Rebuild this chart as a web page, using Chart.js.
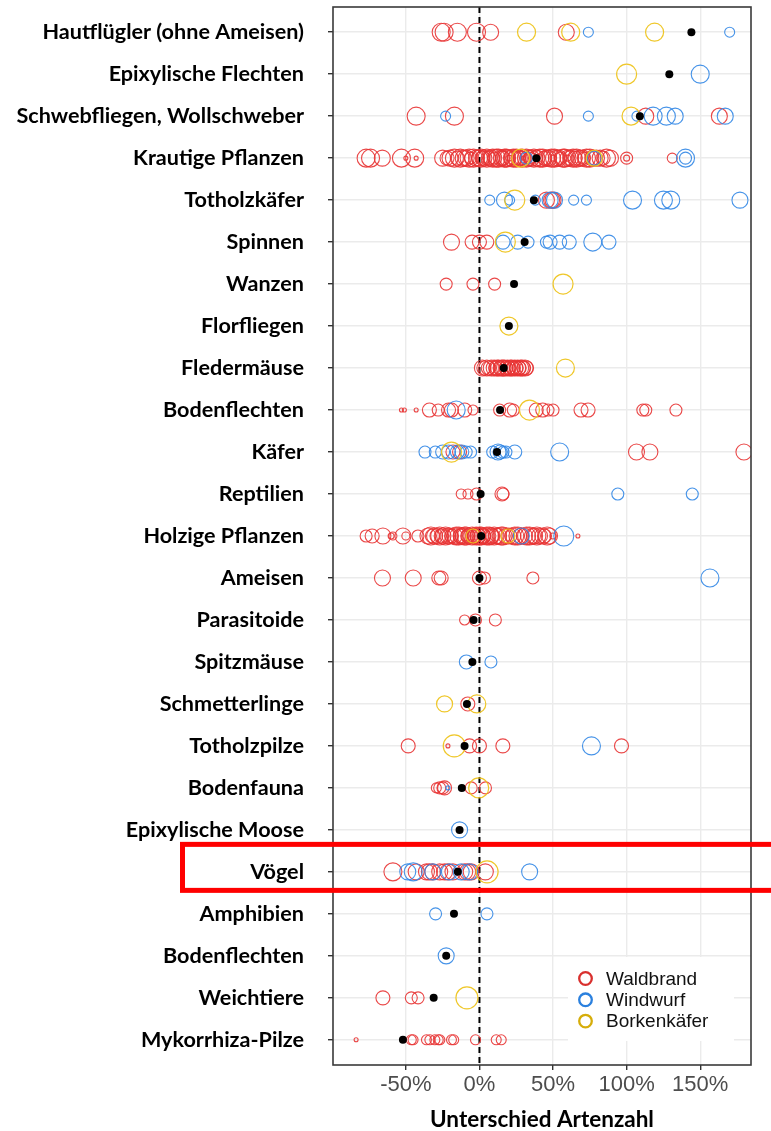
<!DOCTYPE html>
<html>
<head>
<meta charset="utf-8">
<script src="https://cdn.jsdelivr.net/npm/chart.js@4"></script>
<style>
  html, body { margin: 0; padding: 0; background: #fff; }
  #c { display: block; }
</style>
</head>
<body>
<canvas id="c" width="771" height="1131"></canvas>
<script>
// ---------- DATA ----------
const categories = [
  'Hautflügler (ohne Ameisen)', 'Epixylische Flechten', 'Schwebfliegen, Wollschweber',
  'Krautige Pflanzen', 'Totholzkäfer', 'Spinnen', 'Wanzen', 'Florfliegen', 'Fledermäuse',
  'Bodenflechten', 'Käfer', 'Reptilien', 'Holzige Pflanzen', 'Ameisen', 'Parasitoide',
  'Spitzmäuse', 'Schmetterlinge', 'Totholzpilze', 'Bodenfauna', 'Epixylische Moose',
  'Vögel', 'Amphibien', 'Bodenflechten', 'Weichtiere', 'Mykorrhiza-Pilze'
];
const xTickValues = [-50, 0, 50, 100, 150];
const seriesNames = ['Waldbrand', 'Windwurf', 'Borkenkäfer'];
const axisTitle = 'Unterschied Artenzahl';

// [row, Unterschied %, Gewicht]
const waldbrand = [
  [0,-26,9],[0,-24,9],[0,-15,9],[0,-2,9],[0,7.6,8],[0,59,8],
  [2,-43,9],[2,-17,9],[2,51,8],[2,113,8],[2,163,8],
  [3,-77,9],[3,-74,9],[3,-66,8],[3,-53,9],[3,-50,2],[3,-44,9],[3,-43,2],[3,-20,8],[3,-13,9],[3,-9,8],
  [3,-4,9],[3,0,8],[3,2,7],[3,5,9],[3,8,8],[3,11.5,9],[3,14.9,8],[3,18.3,9],[3,20,3],[3,21.7,8],[3,25,9],
  [3,28.5,7],[3,30,2],[3,31.9,9],[3,35.3,8],[3,40,4],[3,41,9],[3,45.5,8],[3,48.9,9],[3,50,3],[3,52.3,8],
  [3,56.8,9],[3,60,3],[3,60.2,8],[3,63.6,9],[3,68.2,8],[3,72.7,9],[3,79.5,8],[3,86.3,9],[3,100,6],[3,100,3],[3,131,5],
  [3,-25,8],[3,-22,7],[3,-17,9],[3,-15,7],[3,-11,8],[3,-7,9],[3,-6,6],[3,-2,8],[3,1,9],[3,3,8],[3,6,7],
  [3,9,9],[3,10,6],[3,13,9],[3,16,7],[3,17,9],[3,19,8],[3,23,9],[3,24,7],[3,27,8],[3,29,9],[3,33,8],
  [3,34,6],[3,37,9],[3,39,8],[3,43,9],[3,44,7],[3,47,8],[3,51,9],[3,54,8],[3,55,6],[3,58,9],[3,62,8],
  [3,65,7],[3,66,9],[3,70,8],[3,71,6],[3,75,9],[3,77,8],[3,82,8],[3,84,7],[3,89,8],
  [4,45.5,8],[4,49,8],[4,50,8],
  [5,-19,8],[5,-5,7],[5,0,7],[5,5,7],
  [6,-22.6,6],[6,-4.4,6],[6,10.3,6],
  [8,2,8],[8,5,8],[8,8,8],[8,10,8],[8,13,8],[8,15,8],[8,17,8],[8,19,8],[8,21,8],[8,24,8],[8,26,8],[8,28,8],[8,30,7],[8,32,7],
  [8,3,7],[8,6,7],[8,11,7],[8,12,8],[8,14,7],[8,16,8],[8,18,7],[8,20,7],[8,22,8],[8,23,7],[8,25,7],[8,27,7],[8,29,8],[8,31,8],
  [9,-53,2],[9,-51,2],[9,-43,2],[9,-34,7],[9,-28,6],[9,-21,7],[9,-19,7],[9,-10,7],[9,-4.4,5],[9,13.7,6],
  [9,20.5,7],[9,23,6],[9,38.6,7],[9,43,7],[9,46.6,6],[9,50,6],[9,69,7],[9,73.8,7],[9,111,6],[9,113,6],[9,133.5,6],
  [10,-18,7],[10,-13.5,7],[10,106.7,8],[10,115.8,8],[10,179.7,8],
  [11,-12.4,5],[11,-7.8,5],[11,-2,6],[11,15.3,7],[11,16,6],
  [12,-77,6],[12,-72.9,7],[12,-65.6,8],[12,-60,3],[12,-58.8,4],[12,-52,8],[12,-50,4],[12,-41.8,6],[12,-30.5,8],
  [12,-28.2,8],[12,-24.8,8],[12,-21.4,8],[12,-15.8,9],[12,-12.4,8],[12,-10.1,9],[12,-6.7,8],[12,-2.2,9],
  [12,1.2,9],[12,4.5,8],[12,6.8,9],[12,11.4,8],[12,14.8,9],[12,18.2,8],[12,22.7,8],[12,26.1,9],[12,30.6,8],
  [12,34,9],[12,37.4,8],[12,40.8,8],[12,44.2,7],[12,47.6,8],[12,49.9,3],[12,66.9,2],
  [12,-35,8],[12,-33,9],[12,-32,7],[12,-27,9],[12,-26,7],[12,-23,9],[12,-20,8],[12,-19,7],[12,-17,8],
  [12,-14,9],[12,-13,7],[12,-11,8],[12,-9,9],[12,-8,7],[12,-5,9],[12,-4,8],[12,-3,7],[12,-1,8],[12,0,9],
  [12,2,8],[12,3,7],[12,5,9],[12,8,8],[12,9,7],[12,10,9],[12,13,8],[12,16,9],[12,20,8],[12,24,9],[12,28,8],
  [12,32,9],[12,36,8],[12,39,9],[12,43,8],[12,46,9],
  [13,-65.9,8],[13,-45,8],[13,-27.6,7],[13,-26,7],[13,0,7],[13,3.4,6],[13,36.3,6],
  [14,-10.1,5],[14,-2.7,6],[14,10.8,6],
  [16,-7.9,7],
  [17,-48.4,7],[17,-21.4,2],[17,-6.7,7],[17,0,7],[17,15.9,7],[17,96.5,7],
  [18,-29.3,5],[18,-27,6],[18,-24.8,6],[18,-23.7,7],[18,-5.6,6],[18,4.1,6],
  [20,-58.8,9],[20,-43,8],[20,-36,8],[20,-34,8],[20,-31.7,8],[20,-27,8],[20,-23.7,8],[20,-21.4,8],[20,-18,8],
  [20,-10,8],[20,-8,8],[20,-5.6,8],[20,4,8],
  [23,-65.6,7],[23,-46.3,6],[23,-41.7,6],
  [24,-83.8,2],[24,-46.3,5],[24,-45.1,5],[24,-36,5],[24,-33.7,5],[24,-30.3,5],[24,-28,5],[24,-26.9,5],
  [24,-19,5],[24,-17.5,5],[24,-2.7,5],[24,11.4,5],[24,14.8,5]
];
const windwurf = [
  [0,74,5],[0,170,5],
  [1,150,9],
  [2,-23,5],[2,74,5],[2,107,5],[2,118,9],[2,127,9],[2,133,8],[2,167,8],
  [3,32,6],[3,78,7],[3,140,9],[3,140,6],
  [4,7,5],[4,17,8],[4,20.5,5],[4,38,5],[4,48,8],[4,51,8],[4,64,5],[4,72.7,5],[4,104,9],[4,125,9],[4,130,9],[4,177,8],
  [5,16,7],[5,26,7],[5,33,6],[5,45.5,6],[5,48,7],[5,54.5,7],[5,61,7],[5,77,9],[5,88,7],
  [9,-15.8,9],
  [10,-37,6],[10,-30,6],[10,-25,7],[10,-21,7],[10,-15,7],[10,-12,7],[10,-9,6],[10,-6,6],[10,9,6],[10,12.6,8],
  [10,14,7],[10,16,6],[10,18,6],[10,24,7],[10,54.5,9],
  [11,94,6],[11,144.6,6],
  [12,28.5,8],[12,57.3,10],
  [13,156.6,9],
  [15,-8.9,7],[15,7.8,6],
  [17,76.1,9],
  [18,-21.4,2],
  [19,-13.5,8],
  [20,-48.7,8],[20,-45,9],[20,-31.7,8],[20,-20.4,8],[20,-12.4,8],[20,-6.7,8],[20,34.1,8],
  [21,-29.8,6],[21,5.1,6],
  [22,-22.6,8]
];
const borkenkaefer = [
  [0,32,9],[0,62,9],[0,119,9],
  [1,100,10],
  [2,103,9],
  [3,28,9],[3,78,8],
  [4,24,10],
  [5,17.6,10],
  [6,56.8,10],
  [7,20,9],
  [8,58.4,9],
  [9,34,10],
  [10,-19,10],
  [12,-4.4,7],[12,19.4,7],
  [16,-23.7,8],[16,-1.8,9],
  [17,-17.1,11],
  [18,-0.5,10],
  [20,5.2,11],
  [23,-8.5,11]
];
// mean per category (black dot)
const mittelwerte = [144, 129, 109, 38.7, 37, 30.7, 23.5, 20, 16.5, 14, 11.9, 0.8, 1.2, 0, -4, -4.8, -8.5, -10.1, -12, -13.5, -14.7, -17.3, -22.6, -31.1, -52];

// ---------- STYLE ----------
const seriesColors = ['rgba(232,52,52,0.9)', 'rgba(50,135,230,0.9)', 'rgba(238,196,30,0.95)'];
const legendColors = ['#d9302e', '#2b80de', '#d6ad0a'];
const highlightIndex = categories.indexOf('Vögel');

const toBubble = arr => arr.map(([row, pct, w]) => ({ x: pct, y: row, r: w }));

const bgPlugin = {
  id: 'decor',
  beforeDraw(chart) {
    const ctx = chart.ctx;
    ctx.save();
    ctx.fillStyle = '#fff';
    ctx.fillRect(0, 0, chart.width, chart.height);
    ctx.restore();
  },
  beforeDatasetsDraw(chart) {
    const { ctx, chartArea: a, scales: { x } } = chart;
    const x0 = x.getPixelForValue(0);
    ctx.save();
    ctx.strokeStyle = '#000';
    ctx.lineWidth = 2;
    ctx.setLineDash([6, 4]);
    ctx.beginPath();
    ctx.moveTo(x0, a.top);
    ctx.lineTo(x0, a.bottom);
    ctx.stroke();
    ctx.restore();
  },
  afterDatasetsDraw(chart) {
    const { ctx, chartArea: a, scales: { y } } = chart;
    ctx.save();
    // legend box
    const lx = 568, ly = 957;
    ctx.fillStyle = '#fff';
    ctx.fillRect(lx, ly, 166, 84);
    ctx.font = '19px "Liberation Sans", Arial, sans-serif';
    ctx.textBaseline = 'middle';
    seriesNames.forEach((n, i) => {
      const cy = ly + 21.5 + i * 21.3;
      ctx.beginPath();
      ctx.strokeStyle = legendColors[i];
      ctx.lineWidth = 2.3;
      ctx.arc(585.5, cy, 6.3, 0, Math.PI * 2);
      ctx.stroke();
      ctx.fillStyle = '#111';
      ctx.fillText(n, 606, cy + 1);
    });
    // panel border
    ctx.strokeStyle = '#3a3a3a';
    ctx.lineWidth = 1.6;
    ctx.strokeRect(a.left, a.top, a.right - a.left, a.bottom - a.top);
    // highlight box around "Vögel"
    const yv = y.getPixelForValue(highlightIndex);
    ctx.strokeStyle = '#ff0000';
    ctx.lineWidth = 5;
    ctx.strokeRect(182.5, yv - 27.5, 700, 46);
    ctx.restore();
  }
};

new Chart(document.getElementById('c'), {
  type: 'bubble',
  data: {
    datasets: [
      { label: seriesNames[0], order: 3, data: toBubble(waldbrand), borderColor: seriesColors[0], backgroundColor: 'rgba(0,0,0,0)', borderWidth: 1.1 },
      { label: seriesNames[1], order: 2, data: toBubble(windwurf), borderColor: seriesColors[1], backgroundColor: 'rgba(0,0,0,0)', borderWidth: 1.1 },
      { label: seriesNames[2], order: 1, data: toBubble(borkenkaefer), borderColor: seriesColors[2], backgroundColor: 'rgba(0,0,0,0)', borderWidth: 1.2 },
      { label: 'Mittelwert', order: 0, data: mittelwerte.map((v, i) => ({ x: v, y: i })), radius: 4, borderColor: '#000', backgroundColor: '#000', borderWidth: 0 }
    ]
  },
  options: {
    responsive: false,
    animation: false,
    devicePixelRatio: 1,
    events: [],
    layout: { autoPadding: false, padding: { top: 7, right: 20, left: 0, bottom: 0 } },
    plugins: { legend: { display: false }, tooltip: { enabled: false } },
    scales: {
      x: {
        type: 'linear', min: -99.5, max: 184.5,
        afterBuildTicks: s => { s.ticks = xTickValues.map(v => ({ value: v })); },
        afterFit: s => { s.height = 66; s.paddingLeft = 0; s.paddingRight = 0; },
        border: { display: false },
        grid: { color: '#ebebeb', lineWidth: 1.4, tickColor: '#333', tickLength: 5 },
        ticks: { callback: v => v + '%', color: '#4d4d4d', padding: 2, maxRotation: 0,
                 font: { family: '"Liberation Sans", Arial, sans-serif', size: 22 } },
        title: { display: true, text: axisTitle, color: '#000', padding: { top: 0, bottom: 0 },
                 font: { family: 'Lato, sans-serif', weight: 'bold', size: 22.5, lineHeight: 1.0 } }
      },
      y: {
        type: 'linear', reverse: true, min: -0.6, max: 24.6,
        afterBuildTicks: s => { s.ticks = categories.map((c, i) => ({ value: i })); },
        afterFit: s => { s.width = 333; s.paddingTop = 0; s.paddingBottom = 0; },
        border: { display: false },
        grid: { color: '#ebebeb', lineWidth: 1.4, tickColor: '#333', tickLength: 5 },
        ticks: { autoSkip: false, callback: v => categories[v], color: '#000', padding: 24,
                 font: { family: 'Lato, sans-serif', weight: 'bold', size: 21.6 } }
      }
    }
  },
  plugins: [bgPlugin]
});
</script>
</body>
</html>
